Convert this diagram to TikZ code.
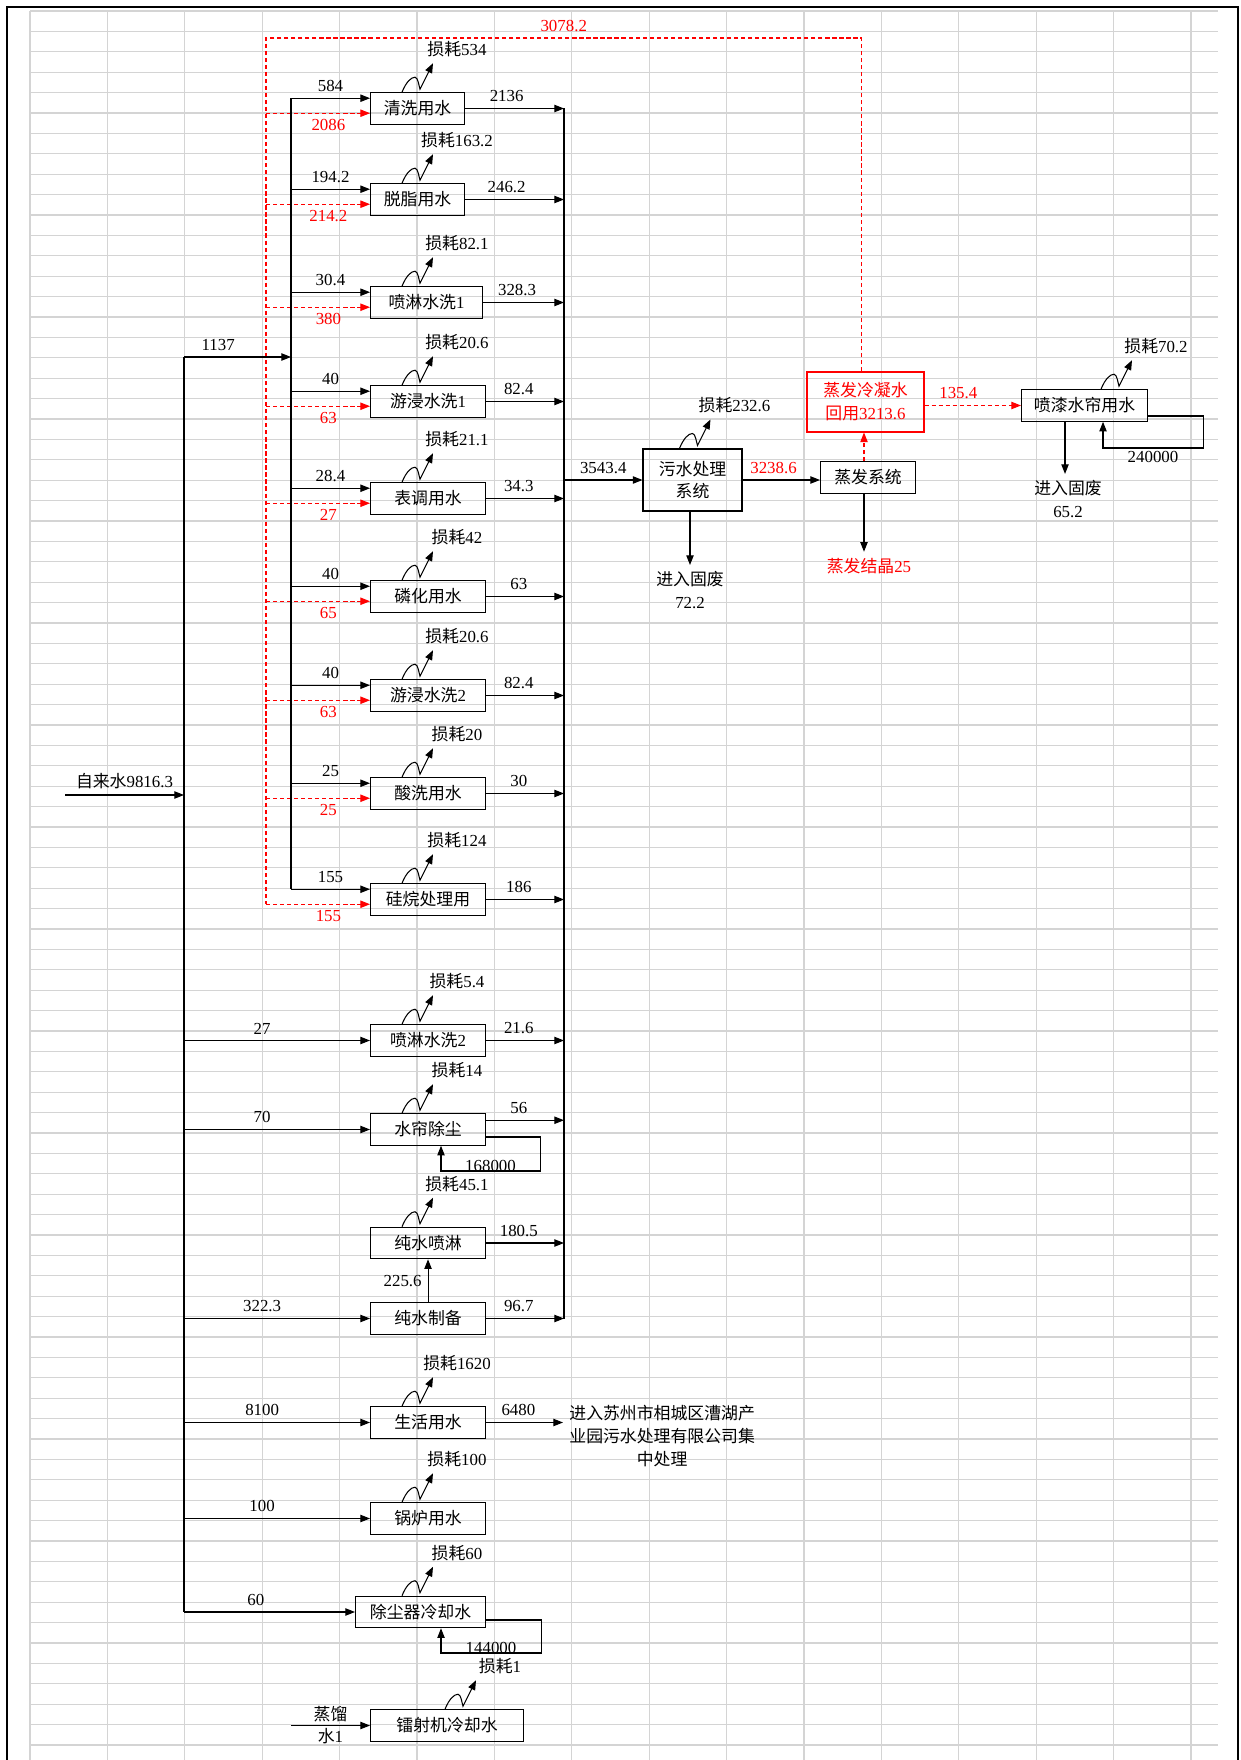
\documentclass[tikz,border=0pt]{standalone}
\usepackage{fontspec}
\setmainfont{Liberation Serif}
\newfontfamily\cjk{Noto Sans CJK SC}
\usetikzlibrary{arrows.meta,calc}

\newcommand{\zh}[1]{{\cjk #1}}

\tikzset{
 box/.style={draw,minimum width=#1*0.02cm,minimum height=0.63cm,inner sep=0pt},
 box/.default=115,
 arr/.style={-{Triangle[length=5.5pt,width=4.2pt]}},
 redline/.style={red,dash pattern=on 2.4pt off 1.6pt},
 back/.style={redline,arr},
}

% loss squiggle on top of a unit: [offset from left edge]{unit}{value}
\newcommand{\loss}[3][32]{%
 \draw[arr] ($(#2.north west)+(#1,0)$) .. controls +(4,-10) and +(-4,0) .. ++(13,-15)
  .. controls +(3,0) and +(-1,-3) .. ++(5,12) -- ++(13,-26) coordinate (#2-tip);
 \node (#2-loss) at ($(#2-tip)+(24,-14)$) {\zh{损耗}#3};
}

\begin{document}
\begin{tikzpicture}[x=0.02cm,y=-0.02cm,line width=0.6pt,font=\fontsize{9.6}{13}\selectfont]
\useasboundingbox (0,0) rectangle (1240,1760);
% sheet
\foreach \k in {0,...,85} \draw[black!17,line width=0.75pt] (30,11+20.4*\k) -- (1218,11+20.4*\k);
\foreach \k in {0,...,15} \draw[black!17,line width=0.75pt] (30+77.4*\k,11) -- (30+77.4*\k,1760);
\draw[line width=1.5pt] (7,1760) -- (7,7) -- (1238,7) -- (1238,1760);

% units
\node[box=94,anchor=west] (qx) at (370,108.5) {\zh{清洗用水}};
\node[box=94,anchor=west] (tz) at (370,199.5) {\zh{脱脂用水}};
\node[box=112,anchor=west] (pl1) at (370,302.5) {\zh{喷淋水洗}1};
\node[box,anchor=west] (yj1) at (370,401.5) {\zh{游浸水洗}1};
\node[box,anchor=west] (bt) at (370,498.5) {\zh{表调用水}};
\node[box,anchor=west] (lh) at (370,596.5) {\zh{磷化用水}};
\node[box,anchor=west] (yj2) at (370,695.5) {\zh{游浸水洗}2};
\node[box,anchor=west] (sx) at (370,793.5) {\zh{酸洗用水}};
\node[box,anchor=west] (gw) at (370,899.5) {\zh{硅烷处理用}};
\node[box,anchor=west] (pl2) at (370,1040.5) {\zh{喷淋水洗}2};
\node[box,anchor=west] (sl) at (370,1129.5) {\zh{水帘除尘}};
\node[box,anchor=west] (cp) at (370,1243) {\zh{纯水喷淋}};
\node[box,anchor=west] (cz) at (370,1318.5) {\zh{纯水制备}};
\node[box,anchor=west] (sh) at (370,1422.5) {\zh{生活用水}};
\node[box,anchor=west] (gl) at (370,1518.5) {\zh{锅炉用水}};
\node[box=130,anchor=west] (cc) at (355,1612) {\zh{除尘器冷却水}};
\node[box=153,anchor=west] (ls) at (370,1725.5) {\zh{镭射机冷却水}};

\node[box=99,minimum height=1.24cm,align=center] (ws) at (692.5,480) {\zh{污水处理}\\\zh{系统}};
\node[box=95,anchor=west] (zf) at (820,477.5) {\zh{蒸发系统}};
\node[box=117,minimum height=1.2cm,draw=red,text=red,align=center] (lq) at (865.5,402) {\zh{蒸发冷凝水}\\\zh{回用}3213.6};
\node[box=126,anchor=west] (pq) at (1021,405.5) {\zh{喷漆水帘用水}};

\node[align=center] (gf1) at (690,590) {\zh{进入固废}\\72.2};
\node[red] (jj) at (869,566) {\zh{蒸发结晶}25};
\node[align=center] (gf2) at (1068,499) {\zh{进入固废}\\65.2};
\node[align=center,anchor=west] (wt) at (563,1436) {\zh{进入苏州市相城区漕湖产}\\\zh{业园污水处理有限公司集}\\\zh{中处理}};

% buses
\coordinate (lbus) at (184,0);
\coordinate (ibus) at (291,0);
\coordinate (rbus) at (564,0);
\coordinate (rcol) at (266,0);
\coordinate (rtop) at (266,38);
\coordinate (j1137) at (184,357);
\coordinate (tap) at (65,795);
\coordinate (dw) at (291,1725.5);

\foreach \b/\v/\r in {qx/584/2086,tz/194.2/214.2,pl1/30.4/380,yj1/40/63,bt/28.4/27,lh/40/65,yj2/40/63,sx/25/25,gw/155/155} {
 \coordinate (\b-in) at ($(\b.north west)+(0,6)$);
 \coordinate (\b-rin) at ($(\b.north west)+(0,21)$);
 \draw[arr] (\b-in -| ibus) -- node[above]{\v} (\b-in);
 \draw[back] (\b-rin -| rcol) -- node[pos=0.6,below]{\r} (\b-rin);
}
\draw (ibus |- qx-in) -- (ibus |- gw-in);
\coordinate (lq-up) at ($(lq.north west)+(55,0)$);
\draw[redline] (lq-up) |- node[pos=0.75,above]{3078.2} (rtop) -- (rcol |- gw-rin);

\draw[arr] (tap) -- node[above]{\zh{自来水}9816.3} (tap -| lbus);
\draw (j1137) -- (lbus |- cc.west);
\draw[arr] (j1137) -- node[pos=0.32,above]{1137} (j1137 -| ibus);
\foreach \b/\v in {pl2/27,sl/70,cz/322.3,sh/8100,gl/100,cc/60}
 \draw[arr] (\b.west -| lbus) -- node[pos=0.42,above]{\v} (\b.west);

\foreach \b/\o in {qx/2136,tz/246.2,pl1/328.3,yj1/82.4,bt/34.3,lh/63,yj2/82.4,sx/30,gw/186,pl2/21.6,cp/180.5,cz/96.7}
 \draw[arr] (\b.east) -- node[pos=0.42,above]{\o} (\b.east -| rbus);
\coordinate (sl-out) at ($(sl.north east)+(0,7)$);
\draw[arr] (sl-out) -- node[pos=0.42,above]{56} (sl-out -| rbus);
\draw (rbus |- qx.east) -- (rbus |- cz.east);
\draw[arr] (sh.east) -- node[pos=0.42,above]{6480} (sh.east -| wt.west);

\draw[arr] (cz.north) -- node[left]{225.6} (cz.north |- cp.south);
\draw[arr] ($(sl.east)+(0,7.5)$) -| ++(54,34) -| node[pos=0.25,anchor=base]{168000} ($(sl.south west)+(71,0)$);
\draw[arr] ($(cc.east)+(0,8)$) -| ++(55,33) -| node[pos=0.25,anchor=base]{144000} ($(cc.south west)+(86,0)$);
\draw[arr] (dw) -- node[above,inner sep=1.5pt]{\zh{蒸馏}} node[below,inner sep=1.5pt]{\zh{水}1} (ls.west);

% treatment and reuse
\draw[arr] (ws.west -| rbus) -- node[above]{3543.4} (ws.west);
\draw[arr] (gf1.north |- ws.south) -- (gf1.north);
\draw[arr] (ws.east) -- node[pos=0.4,above,red]{3238.6} (ws.east -| zf.west);
\coordinate (zf-up) at ($(zf.north west)+(44,0)$);
\coordinate (zf-dn) at ($(zf.south west)+(44,0)$);
\draw[back] (zf-up) -- (zf-up |- lq.south);
\draw[arr] (zf-dn) -- (zf-dn |- jj.north);
\draw[back] (lq.east |- pq.west) -- node[pos=0.35,above]{135.4} (pq.west);
\coordinate (pq-dn) at ($(pq.south west)+(44,0)$);
\draw[arr] (pq-dn) -- (pq-dn |- gf2.north);
\draw[arr] ($(pq.east)+(0,10.5)$) -| ++(55,32) -| node[pos=0.25,below,inner sep=1.5pt]{240000} ($(pq.south west)+(82,0)$);

% losses
\foreach \b/\l in {qx/534,tz/163.2,pl1/82.1,yj1/20.6,bt/21.1,lh/42,yj2/20.6,sx/20,gw/124,pl2/5.4,sl/14,cp/45.1,sh/1620,gl/100}
 {\loss{\b}{\l}}
\loss[47]{cc}{60}
\loss[75]{ls}{1}
\loss[37]{ws}{232.6}
\loss[80]{pq}{70.2}
\end{tikzpicture}
\end{document}
